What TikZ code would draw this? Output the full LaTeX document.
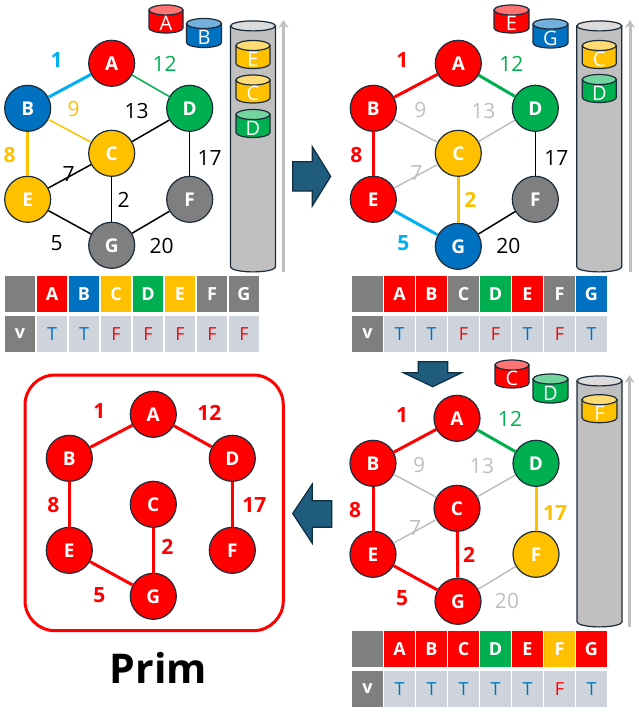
\documentclass[tikz,border=0pt]{standalone}
\usepackage{fontspec}
\setmainfont{Open Sans}
\usetikzlibrary{arrows.meta}
\definecolor{red}{HTML}{FF0000}
\definecolor{blue}{HTML}{0070C0}
\definecolor{amber}{HTML}{FFC000}
\definecolor{green}{HTML}{00B050}
\definecolor{slate}{HTML}{7F7F7F}
\definecolor{sky}{HTML}{00B0F0}
\definecolor{faint}{HTML}{BFBFBF}
\definecolor{ink}{HTML}{1C2B3A}
\definecolor{teal}{HTML}{1F5C7E}
\definecolor{tealdark}{HTML}{0E2E42}
\definecolor{cell}{HTML}{CFD4DC}
\definecolor{silver}{HTML}{C0C0C0}
% name, x, y (centre), width, height, colour, letter
\newcommand{\tank}[7]{%
 \filldraw[tankline,fill=#6] (#2-#4/2,#3-#5/2+5) -- (#2-#4/2,#3+#5/2-5) arc[start angle=180,end angle=360,x radius={#4*0.5pt},y radius=5pt] -- (#2+#4/2,#3-#5/2+5) -- cycle;
 \filldraw[tankline,fill=#6!55!white] (#2,#3-#5/2+5) ellipse[x radius={#4*0.5pt},y radius=5pt];
 \node[tanktext] (#1) at (#2,#3+4.5) {#7};}

\begin{document}
\begin{tikzpicture}[x=1pt,y=-1pt,
 vtx/.style={circle,draw=ink,line width=1.2pt,fill=#1,minimum size=46pt,inner sep=0pt,text=white,font=\bfseries\fontsize{19}{19}\selectfont},
 lt/.style={line width=1.5pt},lk/.style={line width=3pt},
 wt/.style={font=\fontsize{21}{21}\selectfont,inner sep=0pt},
 wb/.style={font=\bfseries\fontsize{21}{21}\selectfont,inner sep=0pt},
 hcell/.style={minimum width=30.5pt,minimum height=35.5pt,inner sep=0pt,text=white,font=\bfseries\fontsize{18}{18}\selectfont},
 vcell/.style={hcell,fill=cell,font=\fontsize{18}{18}\selectfont},
 isT/.style={text=blue},isF/.style={text=red},
 tankline/.style={draw=ink,line width=1.2pt},
 tanktext/.style={text=white,font=\fontsize{20}{20}\selectfont,inner sep=0pt},
 block/.style={fill=teal,draw=tealdark,line width=1.2pt,line join=miter},
 rise/.style={-{Stealth[length=8pt,width=10pt]},line width=3pt,faint}]
 \useasboundingbox (0,0) rectangle (638,712);

 % step 1
 \begin{scope}[shift={(111.7,63.3)}]
 \foreach \n/\x/\y/\c in {A/0/0/red,B/-84/45/blue,C/0/90/amber,D/78/45/green,E/-84/136/amber,F/78/136/slate,G/0/182/slate}
  \node[vtx=\c] (\n1) at (\x,\y) {\n};
 \foreach \u/\v/\c/\s in {A/B/sky/lk,A/D/green/lt,B/C/amber/lt,C/D/black/lt,B/E/amber/lk,C/E/black/lt,C/G/black/lt,D/F/black/lt,E/G/black/lt,F/G/black/lt}
  \draw[\s,\c] (\u1)--(\v1);
 \foreach \w/\x/\y/\c/\f in {1/-55/-3/sky/wb,12/53/1/green/wt,9/-38/46/amber/wt,13/25/48/black/wt,8/-102/92/amber/wb,7/-43/111/black/wt,17/98/95/black/wt,2/12/137/black/wt,5/-55/180/black/wt,20/50/183/black/wt}
  \node[\f,text=\c] (p1w\w) at (\x,\y) {\w};
 \end{scope}
 \tank{q1}{253}{146.4}{45}{251}{silver}{}
 \tank{q1e}{253}{54.5}{34}{28}{amber}{E} \tank{q1c}{253}{89}{34}{28}{amber}{C} \tank{q1d}{253}{123.5}{34}{28}{green}{D}
 \tank{o1a}{166}{19}{34}{28}{red}{A} \tank{o1b}{204}{33}{35}{29}{blue}{B}
 \coordinate (r1s) at (283.5,272); \coordinate (r1e) at (283.5,20); \draw[rise] (r1s)--(r1e);
 \node[hcell,fill=slate] (t1h) at (20,294) {}; \node[hcell,fill=slate] (t1v) at (20,334) {v};
 \foreach \n/\c [count=\i] in {A/red,B/blue,C/amber,D/green,E/amber,F/slate,G/slate}
  \node[hcell,fill=\c] (t1\n) at (20+32*\i,294) {\n};
 \foreach \t [count=\i] in {T,T,F,F,F,F,F}
  \node[vcell,is\t] (t1v\i) at (20+32*\i,334) {\t};

 % step 2
 \begin{scope}[shift={(458.3,63.3)}]
 \foreach \n/\x/\y/\c in {A/0/0/red,B/-85/45/red,C/0/90/amber,D/77/45/green,E/-85/136/red,F/77/136/slate,G/0/183/blue}
  \node[vtx=\c] (\n2) at (\x,\y) {\n};
 \foreach \u/\v/\c/\s in {A/B/red/lk,A/D/green/lk,B/C/faint/lt,C/D/faint/lt,B/E/red/lk,C/E/faint/lt,C/G/amber/lk,D/F/black/lt,E/G/sky/lk,F/G/black/lt}
  \draw[\s,\c] (\u2)--(\v2);
 \foreach \w/\x/\y/\c/\f in {1/-56/-3/red/wb,12/53/1/green/wt,9/-38/47/faint/wt,13/25/48/faint/wt,8/-102/92/red/wb,7/-42/110/faint/wt,17/98/95/black/wt,2/12/137/amber/wb,5/-55/180/sky/wb,20/50/183/black/wt}
  \node[\f,text=\c] (p2w\w) at (\x,\y) {\w};
 \end{scope}
 \tank{q2}{599.3}{146.4}{45}{251}{silver}{}
 \tank{q2c}{599.3}{54.5}{34}{28}{amber}{C} \tank{q2d}{599.3}{88.5}{34}{28}{green}{D}
 \tank{o2e}{511.5}{19}{35}{28}{red}{E} \tank{o2g}{550.5}{33.5}{35}{29}{blue}{G}
 \coordinate (r2s) at (630,272); \coordinate (r2e) at (630,20); \draw[rise] (r2s)--(r2e);
 \node[hcell,fill=slate] (t2h) at (367.5,294) {}; \node[hcell,fill=slate] (t2v) at (367.5,334) {v};
 \foreach \n/\c [count=\i] in {A/red,B/red,C/slate,D/green,E/red,F/slate,G/blue}
  \node[hcell,fill=\c] (t2\n) at (367.5+32*\i,294) {\n};
 \foreach \t [count=\i] in {T,T,F,F,T,F,T}
  \node[vcell,is\t] (t2v\i) at (367.5+32*\i,334) {\t};

 % step 3
 \begin{scope}[shift={(457,418.3)}]
 \foreach \n/\x/\y/\c in {A/0/0/red,B/-84/45/red,C/0/90/red,D/79/45/green,E/-84/136/red,F/79/136/amber,G/1/183/red}
  \node[vtx=\c] (\n3) at (\x,\y) {\n};
 \foreach \u/\v/\c/\s in {A/B/red/lk,A/D/green/lk,B/C/faint/lt,C/D/faint/lt,B/E/red/lk,C/E/faint/lt,C/G/red/lk,D/F/amber/lk,E/G/red/lk,F/G/faint/lt}
  \draw[\s,\c] (\u3)--(\v3);
 \foreach \w/\x/\y/\c/\f in {1/-55/-3/red/wb,12/53/1/green/wt,9/-38/47/faint/wt,13/25/48/faint/wt,8/-102/92/red/wb,7/-42/110/faint/wt,17/98/95/amber/wb,2/12/137/red/wb,5/-55/180/red/wb,20/50/183/faint/wt}
  \node[\f,text=\c] (p3w\w) at (\x,\y) {\w};
 \end{scope}
 \tank{q3}{599.5}{501.4}{45}{251}{silver}{}
 \tank{q3f}{599.5}{408.7}{35}{28}{amber}{F}
 \tank{o3c}{512}{374}{34}{28}{red}{C} \tank{o3d}{550.5}{388.5}{35}{29}{green}{D}
 \coordinate (r3s) at (629.5,627); \coordinate (r3e) at (629.5,375); \draw[rise] (r3s)--(r3e);
 \node[hcell,fill=slate] (t3h) at (367.5,649) {}; \node[hcell,fill=slate] (t3v) at (367.5,689) {v};
 \foreach \n/\c [count=\i] in {A/red,B/red,C/red,D/green,E/red,F/amber,G/red}
  \node[hcell,fill=\c] (t3\n) at (367.5+32*\i,649) {\n};
 \foreach \t [count=\i] in {T,T,T,T,T,F,T}
  \node[vcell,is\t] (t3v\i) at (367.5+32*\i,689) {\t};

 % result
 \draw[red,line width=3pt,rounded corners=30pt] (25,375) rectangle (283.3,630.7);
 \begin{scope}[shift={(153.3,414.3)}]
 \foreach \n/\x/\y in {A/0/0,B/-84/44,C/0/90,D/79/44,E/-84/136,F/79/136,G/0/182}
  \node[vtx=red] (\n4) at (\x,\y) {\n};
 \foreach \u/\v in {A/B,A/D,B/E,C/G,D/F,E/G}
  \draw[lk,red] (\u4)--(\v4);
 \foreach \w/\x/\y in {1/-54/-3,12/56/-1,8/-100/91,17/101/91,2/14/133,5/-54/181}
  \node[wb,text=red] (p4w\w) at (\x,\y) {\w};
 \end{scope}
 \node[font=\bfseries\fontsize{41}{41}\selectfont] (title) at (158.3,668) {Prim};

 % step arrows
 \filldraw[block] (292.7,161.7) -- (312.3,161.7) -- (312.3,146.7) -- (330.7,176.4) -- (312.3,206) -- (312.3,191) -- (292.7,191) -- cycle;
 \filldraw[block] (418.3,361.7) -- (447.7,361.7) -- (447.7,372.7) -- (461.7,372.7) -- (432.7,386.7) -- (403.3,372.7) -- (418.3,372.7) -- cycle;
 \filldraw[block] (331.7,500.7) -- (312.3,500.7) -- (312.3,484) -- (292.7,513.5) -- (312.3,543.3) -- (312.3,527.3) -- (331.7,527.3) -- cycle;
\end{tikzpicture}
\end{document}
